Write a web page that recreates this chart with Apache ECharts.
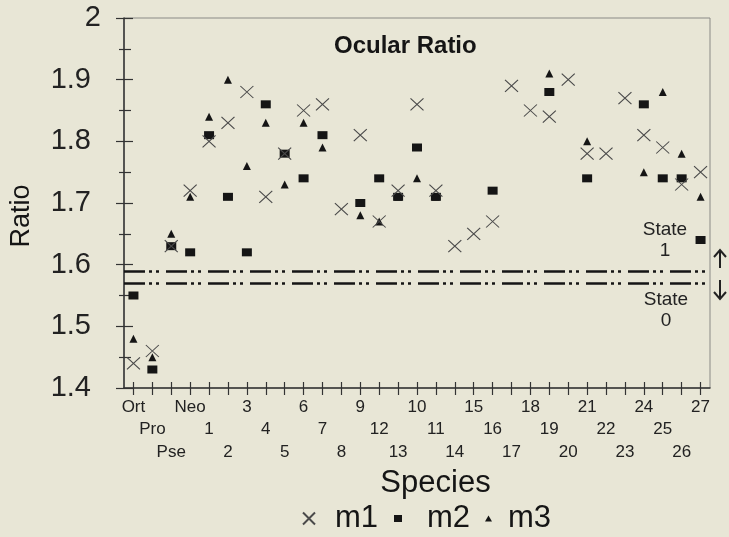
<!DOCTYPE html>
<html>
<head>
<meta charset="utf-8">
<script src="https://cdn.jsdelivr.net/npm/echarts@6/dist/echarts.min.js"></script>
<style>
html,body{margin:0;padding:0;background:#e8e6d6;}
#chart{width:729px;height:537px;}
</style>
</head>
<body>
<div id="chart"></div>
<script>
const categories = ['Ort','Pro','Pse','Neo','1','2','3','4','5','6','7','8','9','12','13','10','11','14','15','16','17','18','19','20','21','22','23','24','25','26','27'];
const m1 = [1.44,1.46,1.63,1.72,1.80,1.83,1.88,1.71,1.78,1.85,1.86,1.69,1.81,1.67,1.72,1.86,1.72,1.63,1.65,1.67,1.89,1.85,1.84,1.90,1.78,1.78,1.87,1.81,1.79,1.73,1.75];
const m2 = [1.55,1.43,1.63,1.62,1.81,1.71,1.62,1.86,1.78,1.74,1.81,null,1.70,1.74,1.71,1.79,1.71,null,null,1.72,null,null,1.88,null,1.74,null,null,1.86,1.74,1.74,1.64];
const m3 = [1.48,1.45,1.65,1.71,1.84,1.90,1.76,1.83,1.73,1.83,1.79,null,1.68,1.67,1.71,1.74,1.71,null,null,null,null,null,1.91,null,1.80,null,null,1.75,1.88,1.78,1.71];
const stateLines = [1.589, 1.573];
const yTicks = {min: 1.4, max: 2, interval: 0.1};

const FONT = '"Liberation Sans", Arial, Helvetica, sans-serif';
const INK = '#151515';
const crossPath = 'path://M0,0L10,10M10,0L0,10';

const chart = echarts.init(document.getElementById('chart'));
const yLabelBase = {fontFamily: FONT, fontSize: 29, color: '#222'};

const option = {
  backgroundColor: '#e8e6d6',
  animation: false,
  title: {
    text: 'Ocular Ratio', left: 334, top: 34, padding: 0,
    textStyle: {fontFamily: FONT, fontSize: 24, fontWeight: 'bold', color: INK}
  },
  grid: {left: 123, right: 19, top: 18, bottom: 149, show: true, borderColor: '#8a8a86', borderWidth: 1, containLabel: false},
  legend: [
    {data: ['m1'], left: 302, top: 503, itemWidth: 14, itemHeight: 12, padding: 0,
     textStyle: {fontFamily: FONT, fontSize: 31, color: INK, padding: [0,0,0,14]}},
    {data: ['m2'], left: 394, top: 503, itemWidth: 8, itemHeight: 7, padding: 0,
     textStyle: {fontFamily: FONT, fontSize: 31, color: INK, padding: [0,0,0,20]}},
    {data: ['m3'], left: 485, top: 503, itemWidth: 7, itemHeight: 6, padding: 0,
     textStyle: {fontFamily: FONT, fontSize: 31, color: INK, padding: [0,0,0,11]}}
  ],
  xAxis: [
    {
      type: 'category', data: categories, boundaryGap: true, position: 'bottom',
      name: 'Species', nameLocation: 'middle', nameGap: 79,
      nameTextStyle: {fontFamily: FONT, fontSize: 31, color: INK, padding: [0,0,0,37]},
      axisLine: {lineStyle: {color: '#333', width: 1.5}},
      axisTick: {show: true, alignWithLabel: true, interval: 0, length: 7, lineStyle: {color: '#333', width: 1.2}},
      axisLabel: {
        interval: 0, margin: 8, fontFamily: FONT, fontSize: 17, lineHeight: 22.5, color: '#222',
        formatter: (v, i) => ['', '\n', '\n\n'][i % 3] + v
      },
      splitLine: {show: false}
    },
    {
      type: 'category', data: categories, boundaryGap: true, position: 'bottom',
      axisLine: {show: false},
      axisTick: {show: true, inside: true, alignWithLabel: true, interval: 0, length: 6, lineStyle: {color: '#333', width: 1.2}},
      axisLabel: {show: false}, splitLine: {show: false}
    }
  ],
  yAxis: [
    {
      type: 'value', min: yTicks.min, max: yTicks.max, interval: yTicks.interval, position: 'left',
      name: 'Ratio', nameLocation: 'middle', nameGap: 89,
      nameTextStyle: {fontFamily: FONT, fontSize: 27, color: INK, padding: [0,26,0,0]},
      axisLine: {show: true, lineStyle: {color: '#333', width: 1.5}},
      axisTick: {show: true, length: 8, lineStyle: {color: '#333', width: 1.2}},
      minorTick: {show: true, splitNumber: 2, length: 5, lineStyle: {color: '#333', width: 1.2}},
      axisLabel: {
        margin: 23,
        formatter: v => Math.abs(v - 2) < 1e-9 ? '{b|2}' : '{a|' + v.toFixed(1) + '}',
        rich: {a: Object.assign({padding: [0,10,0,0]}, yLabelBase), b: Object.assign({}, yLabelBase)}
      },
      splitLine: {show: false}
    },
    {
      type: 'value', min: yTicks.min, max: yTicks.max, interval: yTicks.interval, position: 'left',
      axisLine: {show: false},
      axisTick: {show: true, inside: true, length: 9, lineStyle: {color: '#333', width: 1.2}},
      minorTick: {show: true, splitNumber: 2, length: 7, lineStyle: {color: '#333', width: 1.2}},
      axisLabel: {show: false}, splitLine: {show: false}
    }
  ],
  series: [
    {
      name: 'm1', type: 'scatter', data: m1, z: 5,
      symbol: crossPath, symbolSize: [13, 12],
      itemStyle: {color: 'rgba(0,0,0,0)', borderColor: '#4a4a4a', borderWidth: 1.1, opacity: 1}
    },
    {
      name: 'm2', type: 'scatter', data: m2, z: 4,
      symbol: 'rect', symbolSize: [10, 8],
      itemStyle: {color: INK, opacity: 1},
      markLine: {
        silent: true, symbol: 'none', animation: false,
        label: {show: false},
        lineStyle: {color: INK, width: 2.5, type: [21, 4, 3, 4, 3, 7]},
        data: stateLines.map(v => ({yAxis: v}))
      }
    },
    {
      name: 'm3', type: 'scatter', data: m3, z: 3,
      symbol: 'triangle', symbolSize: [8, 8],
      itemStyle: {color: INK, opacity: 1}
    }
  ],
  graphic: [
    {type: 'text', x: 665, y: 219, z: 10,
     style: {text: 'State\n1', fontFamily: FONT, fontSize: 19, lineHeight: 21, fill: '#222', align: 'center', verticalAlign: 'top'}},
    {type: 'text', x: 666, y: 289, z: 10,
     style: {text: 'State\n0', fontFamily: FONT, fontSize: 19, lineHeight: 21, fill: '#222', align: 'center', verticalAlign: 'top'}},
    {type: 'polyline', z: 10, shape: {points: [[720, 268], [720, 250]]}, style: {stroke: '#222', lineWidth: 2, fill: null}},
    {type: 'polyline', z: 10, shape: {points: [[714, 257], [720, 250], [726, 257]]}, style: {stroke: '#222', lineWidth: 2, fill: null}},
    {type: 'polyline', z: 10, shape: {points: [[720, 280], [720, 299]]}, style: {stroke: '#222', lineWidth: 2, fill: null}},
    {type: 'polyline', z: 10, shape: {points: [[714, 292], [720, 299], [726, 292]]}, style: {stroke: '#222', lineWidth: 2, fill: null}}
  ]
};
chart.setOption(option);
</script>
</body>
</html>
